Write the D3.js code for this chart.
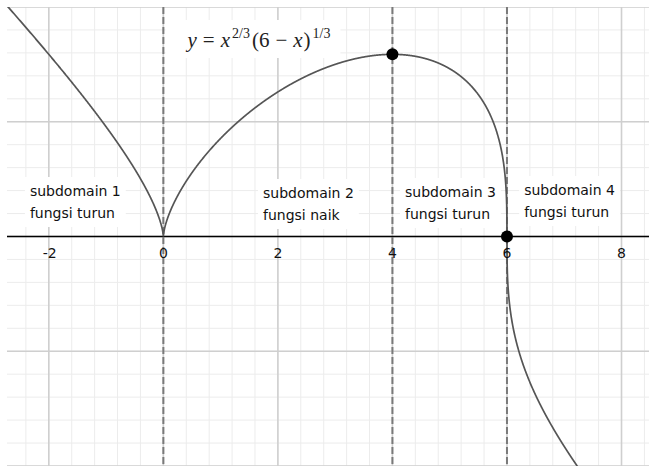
<!DOCTYPE html>
<html>
<head>
<meta charset="utf-8">
<script src="https://cdn.jsdelivr.net/npm/d3@7"></script>
<style>
  html, body { margin: 0; padding: 0; background: #fff; }
  svg { display: block; }
  .tick-label { font-family: "DejaVu Sans", sans-serif; font-size: 14px; fill: #111; }
  .sub-label { font-family: "DejaVu Sans", sans-serif; font-size: 14px; fill: #111; }
  .formula { font-family: "Liberation Serif", serif; font-size: 21px; fill: #222; }
</style>
</head>
<body>
<div id="chart"></div>
<script>
// Data
const xDomain = [-2.73, 8.48];
const yDomain = [-4, 4];
const xTickValues = [-2, 0, 2, 4, 6, 8];
const dashedXs = [0, 4, 6];
const pointXs = [4, 6];
const subLabels = [
  { x: -2.33, line1: 'subdomain 1', line2: 'fungsi turun', base: 196 },
  { x: 1.74, line1: 'subdomain 2', line2: 'fungsi naik', base: 198 },
  { x: 4.22, line1: 'subdomain 3', line2: 'fungsi turun', base: 197 },
  { x: 6.30, line1: 'subdomain 4', line2: 'fungsi turun', base: 195 }
];

// y = x^(2/3) (6 - x)^(1/3)
function f(x) {
  const a = Math.cbrt(x);
  return a * a * Math.cbrt(6 - x);
}

const W = 649, H = 466;
const plot = { left: 7, top: 7, right: 649, bottom: 466 };

const svg = d3.select('#chart').append('svg')
  .attr('width', W)
  .attr('height', H);

svg.append('rect').attr('width', W).attr('height', H).attr('fill', '#fff');

const x = d3.scaleLinear().domain(xDomain).range([plot.left, plot.right]);
const y = d3.scaleLinear().domain(yDomain).range([plot.bottom, plot.top]);

svg.append('clipPath').attr('id', 'clip')
  .append('rect')
  .attr('x', plot.left).attr('y', plot.top)
  .attr('width', plot.right - plot.left).attr('height', plot.bottom - plot.top);

const g = svg.append('g').attr('clip-path', 'url(#clip)');

// grid
const minorX = d3.range(-7, 23).map(i => i * 0.4);
const minorY = d3.range(-11, 12).map(i => i * 0.4);
const majorX = d3.range(-2, 11, 2);
const majorY = d3.range(-4, 5, 2);

g.selectAll('.minor-x').data(minorX).enter().append('line')
  .attr('x1', d => x(d)).attr('x2', d => x(d))
  .attr('y1', plot.top).attr('y2', plot.bottom)
  .attr('stroke', '#ececec').attr('stroke-width', 1);
g.selectAll('.minor-y').data(minorY).enter().append('line')
  .attr('y1', d => y(d)).attr('y2', d => y(d))
  .attr('x1', plot.left).attr('x2', plot.right)
  .attr('stroke', '#ececec').attr('stroke-width', 1);
g.selectAll('.major-x').data(majorX).enter().append('line')
  .attr('x1', d => x(d)).attr('x2', d => x(d))
  .attr('y1', plot.top).attr('y2', plot.bottom)
  .attr('stroke', '#cfcfcf').attr('stroke-width', 1.6);
g.selectAll('.major-y').data(majorY).enter().append('line')
  .attr('y1', d => y(d)).attr('y2', d => y(d))
  .attr('x1', plot.left).attr('x2', plot.right)
  .attr('stroke', '#cfcfcf').attr('stroke-width', 1.6);

// white boxes behind text labels
const boxLayer = g.append('g');

// x axis
g.append('line')
  .attr('x1', plot.left).attr('x2', plot.right)
  .attr('y1', y(0)).attr('y2', y(0))
  .attr('stroke', '#000').attr('stroke-width', 1.5);

// tick labels
svg.selectAll('.tick-label').data(xTickValues).enter().append('text')
  .attr('class', 'tick-label')
  .attr('x', d => x(d) + (d < 0 ? 1 : 0))
  .attr('y', y(0) + 21.5)
  .attr('text-anchor', 'middle')
  .text(d => d < 0 ? '-' + Math.abs(d) : d);

// dashed verticals
g.selectAll('.dash').data(dashedXs).enter().append('line')
  .attr('x1', d => x(d)).attr('x2', d => x(d))
  .attr('y1', plot.top).attr('y2', plot.bottom)
  .attr('stroke', '#7a7a7a').attr('stroke-width', 2)
  .attr('stroke-dasharray', '7,3');

// curve
const n = 3000;
const xs = d3.range(n + 1).map(i => xDomain[0] + (xDomain[1] - xDomain[0]) * i / n)
  .concat([0, 6]).sort((a, b) => a - b);
const line = d3.line()
  .x(d => x(d))
  .y(d => y(Math.max(-6, Math.min(6, f(d)))));
g.append('path')
  .datum(xs)
  .attr('d', line)
  .attr('fill', 'none')
  .attr('stroke', '#555')
  .attr('stroke-width', 1.7);

// points
g.selectAll('.pt').data(pointXs).enter().append('circle')
  .attr('cx', d => x(d)).attr('cy', d => y(f(d)))
  .attr('r', 6).attr('fill', '#000');

// subdomain labels
subLabels.forEach(s => {
  const t = svg.append('g');
  t.append('text').attr('class', 'sub-label')
    .attr('x', x(s.x)).attr('y', s.base).text(s.line1);
  t.append('text').attr('class', 'sub-label')
    .attr('x', x(s.x)).attr('y', s.base + 22).text(s.line2);
  const bb = t.node().getBBox();
  boxLayer.append('rect')
    .attr('x', bb.x - 5).attr('y', bb.y - 6)
    .attr('width', bb.width + 10).attr('height', bb.height + 12)
    .attr('fill', '#fff');
});

// formula label
const fg = svg.append('g');
const ft = fg.append('text').attr('class', 'formula')
  .attr('x', 187.5).attr('y', 47);
ft.append('tspan').attr('font-style', 'italic').text('y');
ft.append('tspan').attr('dx', 6).text('=');
ft.append('tspan').attr('dx', 6).attr('font-style', 'italic').text('x');
ft.append('tspan').attr('font-size', 14).attr('dx', 2).attr('dy', -9).text('2/3');
ft.append('tspan').attr('dx', 2).attr('dy', 9).text('(6');
ft.append('tspan').attr('dx', 6).text('\u2212');
ft.append('tspan').attr('dx', 6).attr('font-style', 'italic').text('x');
ft.append('tspan').attr('dx', 1).text(')');
ft.append('tspan').attr('font-size', 14).attr('dx', 2).attr('dy', -9).text('1/3');
const fb = fg.node().getBBox();
boxLayer.append('rect')
  .attr('x', fb.x - 20).attr('y', fb.y - 6)
  .attr('width', fb.width + 30).attr('height', fb.height + 12)
  .attr('fill', '#fff');
</script>
</body>
</html>
